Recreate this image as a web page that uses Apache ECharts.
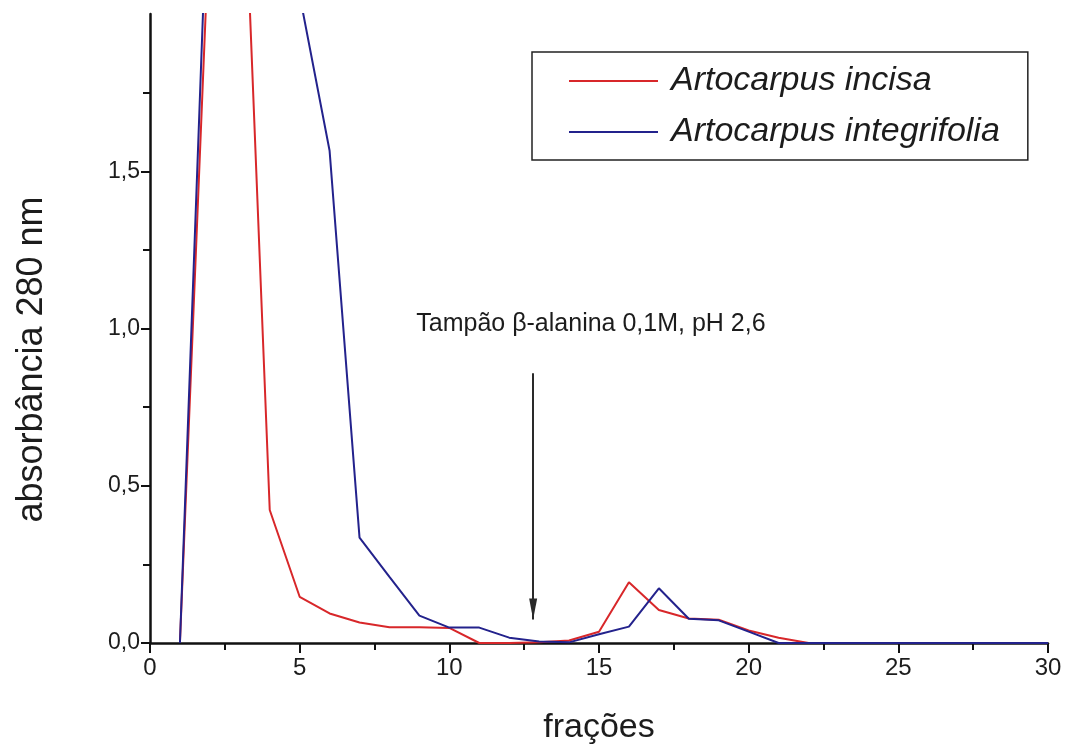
<!DOCTYPE html>
<html>
<head>
<meta charset="utf-8">
<script src="https://cdn.jsdelivr.net/npm/echarts@6/dist/echarts.min.js"></script>
<style>
  html, body { margin: 0; padding: 0; background: #fff; }
  #chart { width: 1069px; height: 750px; }
</style>
</head>
<body>
<div id="chart"></div>
<script>
// Fraction numbers collected from the column
const fractions = [1, 2, 3, 4, 5, 6, 7, 8, 9, 10, 11, 12, 13, 14, 15,
                   16, 17, 18, 19, 20, 21, 22, 23, 24, 25, 26, 27, 28, 29, 30];

// Absorbance at 280 nm for each fraction
const incisa = [0, 2.33, 2.82, 0.423, 0.147, 0.094, 0.065, 0.05, 0.05, 0.048,
                0, 0, 0.002, 0.008, 0.036, 0.193, 0.105, 0.078, 0.074, 0.04,
                0.017, 0, 0, 0, 0, 0, 0, 0, 0, 0];
const integrifolia = [0, 2.6, 3.4, 2.9, 2.06, 1.565, 0.335, 0.21, 0.087, 0.049,
                      0.049, 0.017, 0.005, 0.002, 0.028, 0.052, 0.174, 0.077, 0.072, 0.036,
                      0, 0, 0, 0, 0, 0, 0, 0, 0, 0];

const seriesNames = ['Artocarpus incisa', 'Artocarpus integrifolia'];
const yTickValues = [0, 0.5, 1, 1.5];
const yTickLabels = ['0,0', '0,5', '1,0', '1,5'];
const xTickLabels = ['0', '5', '10', '15', '20', '25', '30'];

// Buffer change annotation: arrow start/end (fraction, absorbance) and caption
const bufferArrow = [[12.8, 0.858], [12.8, 0.075]];
const bufferLabel = 'Tampão β-alanina 0,1M, pH 2,6';
const bufferLabelAt = [14.73, 1.015];

const FONT = '"Liberation Sans", Arial, Helvetica, sans-serif';
const INK = '#1c1c1c';

const pairs = vals => fractions.map((f, i) => [f, vals[i]]);

const chart = echarts.init(document.getElementById('chart'), null, { renderer: 'canvas' });

chart.setOption({
  backgroundColor: '#ffffff',
  animation: false,
  textStyle: { fontFamily: FONT, color: INK },
  grid: { left: 150, right: 21, top: 14, bottom: 107, containLabel: false },
  legend: {
    data: seriesNames,
    orient: 'vertical',
    left: 532,
    top: 52,
    padding: [9, 28, 8, 37],
    icon: 'rect',
    itemWidth: 89,
    itemHeight: 2,
    itemGap: 11,
    borderColor: '#222',
    borderWidth: 1.5,
    borderRadius: 0,
    backgroundColor: '#fff',
    textStyle: {
      fontFamily: FONT,
      fontSize: 34,
      fontStyle: 'italic',
      color: INK,
      lineHeight: 40,
      padding: [0, 0, 0, 8]
    }
  },
  xAxis: {
    type: 'value',
    min: 0,
    max: 30,
    interval: 5,
    name: 'frações',
    nameLocation: 'middle',
    nameGap: 68,
    nameTextStyle: { fontSize: 34, color: INK, fontFamily: FONT },
    axisLine: { onZero: false, lineStyle: { color: '#111', width: 2.5 } },
    axisTick: { show: true, inside: false, length: 10, lineStyle: { color: '#111', width: 2 } },
    minorTick: { show: true, splitNumber: 2, length: 7, lineStyle: { color: '#111', width: 2 } },
    splitLine: { show: false },
    axisLabel: {
      fontSize: 24,
      color: INK,
      margin: 13,
      formatter: v => xTickLabels[Math.round(v / 5)]
    }
  },
  yAxis: {
    type: 'value',
    min: 0,
    max: 2,
    interval: 0.5,
    name: 'absorbância 280 nm',
    nameLocation: 'middle',
    nameRotate: 90,
    nameGap: 100,
    nameTextStyle: { fontSize: 36, color: INK, fontFamily: FONT, padding: [0, 62, 0, 0] },
    axisLine: { onZero: false, lineStyle: { color: '#111', width: 2.5 } },
    axisTick: { show: true, inside: false, length: 9, customValues: yTickValues, lineStyle: { color: '#111', width: 2 } },
    minorTick: { show: true, splitNumber: 2, length: 7, lineStyle: { color: '#111', width: 2 } },
    splitLine: { show: false },
    axisLabel: {
      fontSize: 23,
      color: INK,
      margin: 10,
      customValues: yTickValues,
      formatter: v => {
        const i = Math.round(v / 0.5);
        return i < yTickLabels.length ? yTickLabels[i] : '';
      }
    }
  },
  series: [
    {
      name: seriesNames[0],
      type: 'line',
      data: pairs(incisa),
      symbol: 'none',
      clip: true,
      lineStyle: { color: '#d8272a', width: 2 },
      itemStyle: { color: '#d8272a' },
      z: 2,
      markLine: {
        silent: true,
        symbol: ['none', 'none'],
        label: { show: false },
        lineStyle: { color: '#2a2a2a', width: 2, type: 'solid' },
        data: [[{ coord: bufferArrow[0] }, { coord: bufferArrow[1] }]]
      },
      markPoint: {
        silent: true,
        data: [
          {
            coord: bufferArrow[1],
            symbol: 'path://M0,0L10,0L5,26Z',
            symbolSize: [8, 21],
            symbolOffset: [0, '-50%'],
            symbolKeepAspect: false,
            itemStyle: { color: '#2a2a2a' },
            label: { show: false }
          },
          {
            coord: bufferLabelAt,
            symbol: 'rect',
            symbolSize: 1,
            itemStyle: { color: 'rgba(0,0,0,0)' },
            label: {
              show: true,
              position: 'inside',
              formatter: bufferLabel,
              fontFamily: FONT,
              fontSize: 25,
              color: INK
            }
          }
        ]
      }
    },
    {
      name: seriesNames[1],
      type: 'line',
      data: pairs(integrifolia),
      symbol: 'none',
      clip: true,
      lineStyle: { color: '#23228c', width: 2 },
      itemStyle: { color: '#23228c' },
      z: 3
    }
  ]
});
</script>
</body>
</html>
